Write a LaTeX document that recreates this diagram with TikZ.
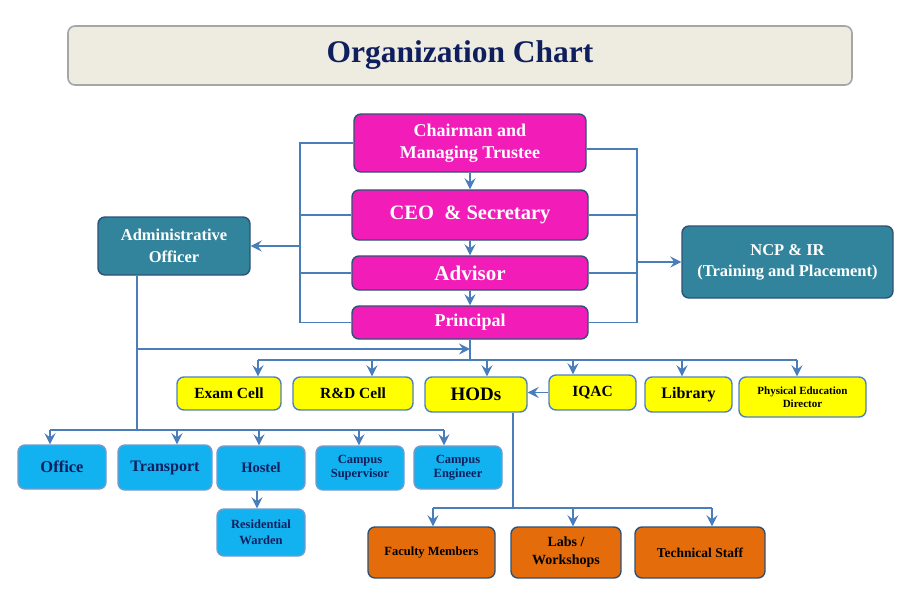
\documentclass[tikz,border=0pt]{standalone}
\usepackage{fontspec}
\setmainfont{Liberation Serif}
\usetikzlibrary{arrows.meta}
\definecolor{pinkfill}{HTML}{F21CB8}
\definecolor{tealfill}{HTML}{31849B}
\definecolor{skyfill}{HTML}{12B2F0}
\definecolor{orangefill}{HTML}{E46C0A}
\definecolor{yellowfill}{HTML}{FFFF00}
\definecolor{darkedge}{HTML}{2D5278}
\definecolor{lightedge}{HTML}{4F81BD}
\definecolor{wire}{HTML}{4A7EBB}
\definecolor{titlefill}{HTML}{EEECE1}
\definecolor{navy}{HTML}{0F1F5E}
\begin{document}
\begin{tikzpicture}[x=1pt, y=-1pt,
  box/.style={draw, rounded corners=7pt, line width=1.4pt, align=center, inner sep=0pt},
  pinkbox/.style={box, fill=pinkfill, draw=darkedge, text=white, minimum width=236pt},
  tealbox/.style={box, fill=tealfill, draw=darkedge, text=white},
  yellowbox/.style={box, fill=yellowfill, draw=lightedge, text=black},
  skybox/.style={box, fill=skyfill, draw=lightedge!80!white, text=navy, minimum width=88pt, minimum height=44pt},
  orangebox/.style={box, fill=orangefill, draw=darkedge, text=black, minimum height=51pt},
  sz/.style={font=\bfseries\fontsize{#1}{#1}\selectfont},
  line/.style={draw=wire, line width=1.8pt},
  arr/.style={line, -{Stealth[length=11pt, width=11pt, inset=4pt]}}
]
\useasboundingbox (0,0) rectangle (900,600);

% title
\node[box, fill=titlefill, draw=gray!70, line width=1.6pt, minimum width=784pt, minimum height=59pt,
  text=navy, font=\bfseries\fontsize{31.5}{34}\selectfont] (title) at (460,55.5) {Organization Chart};

% top management
\node[pinkbox, minimum width=232pt, minimum height=58pt, font=\bfseries\fontsize{18}{22}\selectfont] (chair) at (470,143) {Chairman and\\Managing Trustee};
\node[pinkbox, minimum height=50pt, sz=20.5] (ceo) at (470,215) {CEO \ \& Secretary};
\node[pinkbox, minimum height=34pt, sz=21] (adv) at (470,273) {Advisor};
\node[pinkbox, minimum height=33pt, sz=18] (prin) at (470,322.5) {Principal};

\node[tealbox, minimum width=152pt, minimum height=58pt, font=\bfseries\fontsize{16.5}{22}\selectfont] (admin) at (174,246) {Administrative\\Officer};
\node[tealbox, minimum width=211pt, minimum height=72pt, font=\bfseries\fontsize{16.5}{21}\selectfont] (ncp) at (787.5,262) {NCP \& IR\\(Training and Placement)};

% academic units
\node[yellowbox, minimum width=104pt, minimum height=33pt, sz=15.5] (exam) at (229,393.5) {Exam Cell};
\node[yellowbox, minimum width=120pt, minimum height=33pt, sz=15.5] (rd) at (353,393.5) {R\&D Cell};
\node[yellowbox, minimum width=102pt, minimum height=35pt, sz=19] (hods) at (476,394.5) {HODs};
\node[yellowbox, minimum width=87pt, minimum height=35pt, sz=15.5] (iqac) at (592.5,392.5) {IQAC};
\node[yellowbox, minimum width=87pt, minimum height=35pt, sz=16] (lib) at (688.5,394.5) {Library};
\node[yellowbox, minimum width=127pt, minimum height=40pt, font=\bfseries\fontsize{11}{13}\selectfont] (pe) at (802.5,397) {Physical Education\\Director};

% administration units
\node[skybox, sz=16.5] (office) at (62,467) {Office};
\node[skybox, minimum width=94pt, minimum height=45pt, sz=16] (trans) at (165,467.5) {Transport};
\node[skybox, sz=14.5] (hostel) at (261,468) {Hostel};
\node[skybox, font=\bfseries\fontsize{12.5}{14}\selectfont] (csup) at (360,468) {Campus\\Supervisor};
\node[skybox, minimum height=43pt, font=\bfseries\fontsize{12.5}{14}\selectfont] (ceng) at (458,467.5) {Campus\\Engineer};
\node[skybox, minimum height=47pt, font=\bfseries\fontsize{12.5}{16}\selectfont] (warden) at (261,532.5) {Residential\\Warden};

% departments
\node[orangebox, minimum width=127pt, sz=12.5] (fac) at (431.5,552.5) {Faculty Members};
\node[orangebox, minimum width=110pt, font=\bfseries\fontsize{14}{18}\selectfont] (labs) at (566,552.5) {Labs /\\Workshops};
\node[orangebox, minimum width=130pt, sz=13.5] (tech) at (700,552.5) {Technical Staff};

% connectors
\coordinate (lbus) at (300,246);
\coordinate (rbus) at (637,262);
\draw[arr] (chair) -- (ceo);
\draw[arr] (ceo) -- (adv);
\draw[arr] (adv) -- (prin);
\draw[line] (chair.west) -| (lbus) |- (prin.west);
\draw[line] (ceo.west) -- (ceo.west -| lbus);
\draw[line] (adv.west) -- (adv.west -| lbus);
\draw[arr] (lbus) -- (lbus -| admin.east);
\draw[line] ([yshift=-6pt]chair.east) -| (rbus) |- (prin.east);
\draw[line] (ceo.east) -- (ceo.east -| rbus);
\draw[line] (adv.east) -- (adv.east -| rbus);
\draw[arr] (rbus) -- (rbus -| ncp.west);

\coordinate (abus) at (137,430);
\coordinate (ajoin) at (137,349);
\coordinate (pjoin) at (470,349);
\coordinate (ybus) at (470,360);
\draw[line] (admin.south -| abus) -- (abus);
\draw[arr] (ajoin) -- (pjoin);
\draw[line] (prin.south) -- (ybus);
\draw[line] (258,360) -- (797,360);
\foreach \n/\x in {exam/258, rd/372, hods/487, iqac/573, lib/682, pe/797}
  \draw[arr] (\x,360) -- (\x,0 |- \n.north);
\draw[arr] (iqac.west) -- (iqac.west -| hods.east);

\draw[line] (50,430) -- (444,430);
\foreach \n/\x in {office/50, trans/177, hostel/259, csup/359, ceng/444}
  \draw[arr] (\x,430) -- (\x,0 |- \n.north);
\draw[arr] (hostel.south -| 257,0) -- (warden.north -| 257,0);

\coordinate (hbus) at (513,508);
\draw[line] (hods.south -| hbus) -- (hbus);
\draw[line] (433,508) -- (712,508);
\foreach \n/\x in {fac/433, labs/573, tech/712}
  \draw[arr] (\x,508) -- (\x,0 |- \n.north);
\end{tikzpicture}
\end{document}
